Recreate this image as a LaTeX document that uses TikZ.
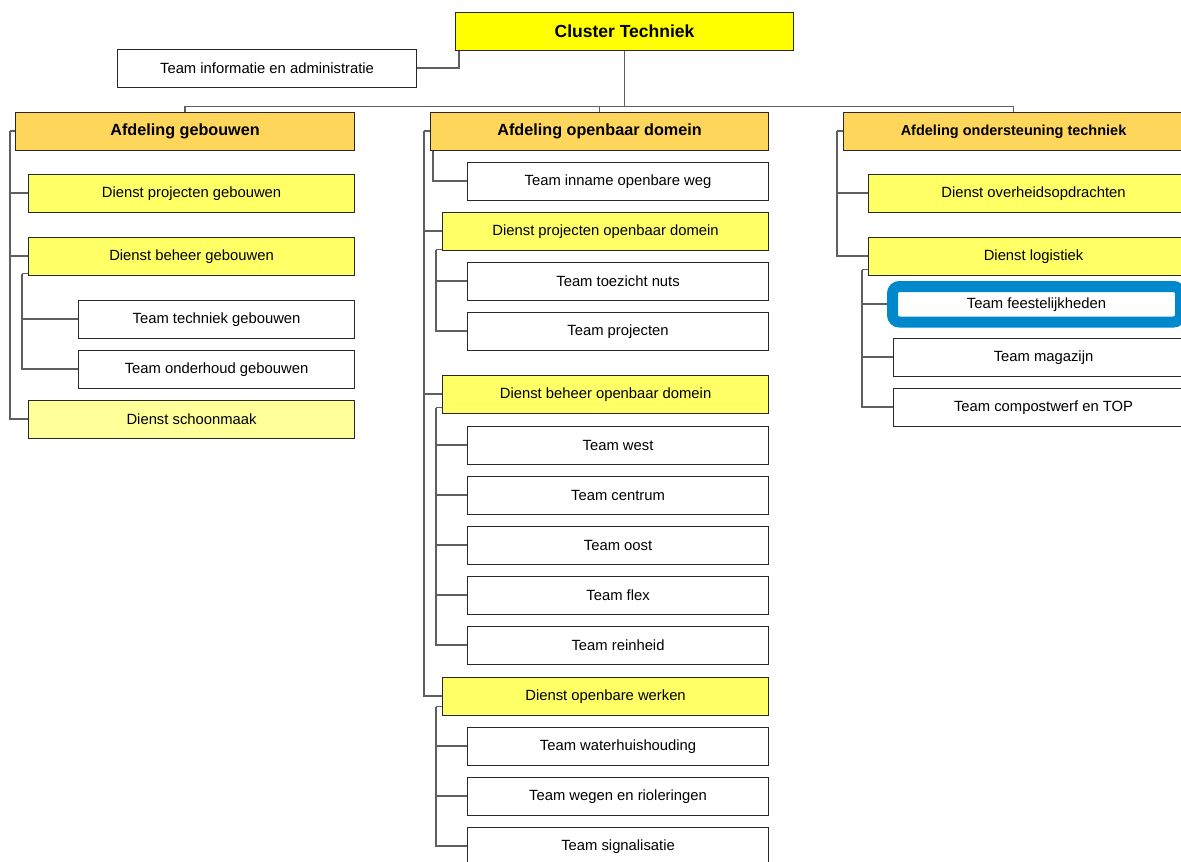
\documentclass[tikz,border=0pt]{standalone}
\usepackage{xcolor}
\usepackage{fontspec}
\setmainfont{Liberation Sans}
\usepackage{tikz}
\definecolor{clusteryellow}{RGB}{255,255,0}
\definecolor{afdelingorange}{RGB}{255,214,92}
\definecolor{dienstyellow}{RGB}{255,255,102}
\definecolor{paleyellow}{RGB}{255,255,153}
\definecolor{hlblue}{RGB}{0,136,204}
\definecolor{boxline}{RGB}{40,40,40}
\definecolor{linegray}{RGB}{95,95,95}

\tikzset{
  orgbox/.style={draw=boxline, line width=1.1pt, anchor=north west, minimum height=37.5pt,
                 inner sep=0pt, font=\fontsize{14.8}{17}\selectfont},
  teambox/.style={orgbox, fill=white},
  dienstbox/.style={orgbox, fill=dienstyellow},
  afdbox/.style={orgbox, fill=afdelingorange, font=\fontsize{16.2}{19}\selectfont\bfseries},
  link/.style={draw=linegray, line width=1.7pt},
}

\begin{document}
\begin{tikzpicture}[x=1pt, y=-1pt]
    \clip (0,0) rectangle (1181,862);

    \node[orgbox, fill=clusteryellow, minimum width=338pt,
          font=\fontsize{17.5}{20}\selectfont\bfseries] (cluster) at (455,12) {Cluster Techniek};
    \node[teambox, minimum width=299pt] (info) at (117,49) {Team informatie en administratie};

    \node[afdbox, minimum width=339pt] (afdGeb) at (15,112) {Afdeling gebouwen};
    \node[afdbox, minimum width=338pt] (afdOpd) at (430,112) {Afdeling openbaar domein};
    \node[afdbox, minimum width=340pt, font=\fontsize{14.5}{17}\selectfont\bfseries]
          (afdOnd) at (843,112) {Afdeling ondersteuning techniek};

    % afdeling gebouwen
    \node[dienstbox, minimum width=326pt] (dProjGeb) at (28,174) {Dienst projecten gebouwen};
    \node[dienstbox, minimum width=326pt] (dBehGeb) at (28,237) {Dienst beheer gebouwen};
    \node[teambox, minimum width=276pt] (tTechGeb) at (78,300) {Team techniek gebouwen};
    \node[teambox, minimum width=276pt] (tOndGeb) at (78,350) {Team onderhoud gebouwen};
    \node[orgbox, fill=paleyellow, minimum width=326pt] (dSchoon) at (28,400) {Dienst schoonmaak};

    % afdeling openbaar domein
    \node[teambox, minimum width=301pt] (tInname) at (467,162) {Team inname openbare weg};
    \node[dienstbox, minimum width=326pt] (dProjOd) at (442,212) {Dienst projecten openbaar domein};
    \node[teambox, minimum width=301pt] (tToez) at (467,262) {Team toezicht nuts};
    \node[teambox, minimum width=301pt] (tProj) at (467,312) {Team projecten};
    \node[dienstbox, minimum width=326pt] (dBehOd) at (442,375) {Dienst beheer openbaar domein};
    \node[teambox, minimum width=301pt] (tWest) at (467,426) {Team west};
    \node[teambox, minimum width=301pt] (tCentrum) at (467,476) {Team centrum};
    \node[teambox, minimum width=301pt] (tOost) at (467,526) {Team oost};
    \node[teambox, minimum width=301pt] (tFlex) at (467,576) {Team flex};
    \node[teambox, minimum width=301pt] (tReinheid) at (467,626) {Team reinheid};
    \node[dienstbox, minimum width=326pt] (dWerken) at (442,677) {Dienst openbare werken};
    \node[teambox, minimum width=301pt] (tWater) at (467,727) {Team waterhuishouding};
    \node[teambox, minimum width=301pt] (tWegen) at (467,777) {Team wegen en rioleringen};
    \node[teambox, minimum width=301pt] (tSignal) at (467,827) {Team signalisatie};

    % afdeling ondersteuning techniek
    \node[dienstbox, minimum width=330pt] (dOverheid) at (868,174) {Dienst overheidsopdrachten};
    \node[dienstbox, minimum width=330pt] (dLog) at (868,237) {Dienst logistiek};
    \node[orgbox, draw=hlblue, line width=11pt, rounded corners=7pt, fill=white,
          minimum width=288pt, minimum height=35.5pt, outer sep=5.5pt] (tFeest) at (887,281) {Team feestelijkheden};
    \node[teambox, minimum width=300pt] (tMagazijn) at (893,338) {Team magazijn};
    \node[teambox, minimum width=300pt] (tCompost) at (893,388) {Team compostwerf en TOP};

    % connectors
    \draw[link] (cluster.south west) ++(4,0) |- (info.east);
    \draw[link] (cluster.south) -- ++(0,56) coordinate (bus);
    \draw[link] (afdGeb.north) |- (bus) -| (afdOnd.north);
    \draw[link] (afdOpd.north) -- (afdOpd.north |- bus);

    \draw[link] (afdGeb.west) -- ++(-5,0) coordinate (gebV);
    \foreach \n in {dProjGeb, dBehGeb, dSchoon}
        \draw[link] (gebV) |- (\n.west);
    \draw[link] (dBehGeb.south west) ++(0,-2) -- ++(-6,0) coordinate (behV);
    \foreach \n in {tTechGeb, tOndGeb}
        \draw[link] (behV) |- (\n.west);

    \draw[link] (afdOpd.west) -- ++(-6,0) coordinate (opdV);
    \foreach \n in {dProjOd, dBehOd, dWerken}
        \draw[link] (opdV) |- (\n.west);
    \draw[link] (afdOpd.south west) ++(3,0) |- (tInname.west);
    \draw[link] (dProjOd.south west) ++(0,-1) -- ++(-6,0) coordinate (projV);
    \foreach \n in {tToez, tProj}
        \draw[link] (projV) |- (\n.west);
    \draw[link] (dBehOd.south west) ++(0,-6) -- ++(-6,0) coordinate (behOdV);
    \foreach \n in {tWest, tCentrum, tOost, tFlex, tReinheid}
        \draw[link] (behOdV) |- (\n.west);
    \draw[link] (dWerken.south west) ++(0,-9) -- ++(-6,0) coordinate (werkV);
    \foreach \n in {tWater, tWegen, tSignal}
        \draw[link] (werkV) |- (\n.west);

    \draw[link] (afdOnd.west) -- ++(-6,0) coordinate (ondV);
    \foreach \n in {dOverheid, dLog}
        \draw[link] (ondV) |- (\n.west);
    \draw[link] (dLog.south west) ++(0,-6) -- ++(-6,0) coordinate (logV);
    \foreach \n in {tFeest, tMagazijn, tCompost}
        \draw[link] (logV) |- (\n.west);
\end{tikzpicture}
\end{document}
